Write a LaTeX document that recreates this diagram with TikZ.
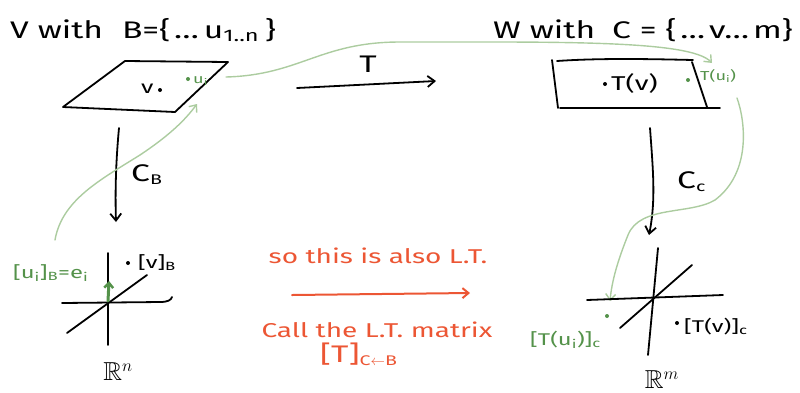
\documentclass[tikz,border=0pt]{standalone}
\usepackage{fontspec}
\setmainfont[FakeStretch=1.4]{Fira Sans}
\usepackage{amssymb}
\usetikzlibrary{arrows.meta}
\definecolor{lgreen}{RGB}{172,204,160}
\definecolor{dgreen}{RGB}{84,146,74}
\definecolor{orng}{RGB}{236,86,52}
\newcommand{\fs}[1]{\fontsize{#1}{#1}\selectfont}
\begin{document}
\begin{tikzpicture}[x=1pt,y=-1pt,line cap=round,line join=round,
  ink/.style={line width=1.8pt,black},
  inkarrow/.style={ink,-{Straight Barb[length=7pt,width=11pt,line width=1.8pt]}},
  gcurve/.style={line width=1.4pt,lgreen,-{Straight Barb[length=6pt,width=10pt]}},
  oarrow/.style={line width=2pt,orng,-{Straight Barb[length=6pt,width=10pt,line width=2pt]}},
  lbl/.style={inner sep=0pt,anchor=base west},
  dotb/.style={circle,fill=black,inner sep=0pt,minimum size=4pt},
  dotg/.style={circle,fill=dgreen,inner sep=0pt,minimum size=4pt}]
\useasboundingbox (0,0) rectangle (800,392);

% titles
\node[lbl,font=\fs{24}] (titleV) at (10,38) {V with\hspace{10pt} B=\{\,…\hspace{5pt}u\textsubscript{1..n}\hspace{6pt}\}};
\node[lbl,font=\fs{24}] (titleW) at (493,38) {W with\hspace{8pt} C = \{\,…\,v…\,m\}};

% left parallelogram
\draw[ink] (125,61) -- (228,62) -- (175,112) -- (63,107) -- cycle;
\node[lbl,font=\fs{18}] (v) at (141,93) {v};
\node[dotb] (vdot) at (160,90) {};
\node[dotg] (uidot) at (188,79) {};
\node[lbl,font=\fs{13},text=dgreen] (ui) at (193,83) {u\textsubscript{i}};
\coordinate (uiend) at (226,77);

% right quadrilateral
\draw[ink] (552,60) -- (558,108);
\draw[ink] (557,61) .. controls (600,58) and (650,59) .. (693,60);
\draw[ink] (692,62) -- (707,107);
\draw[ink] (560,108) -- (720,108);
\node[dotb] (Tvdot) at (605,84) {};
\node[lbl,font=\fs{20}] (Tv) at (611,90) {T(v)};
\node[dotg] (Tuidot) at (688,80) {};
\node[lbl,font=\fs{13},text=dgreen] (Tui) at (700,80) {T(u\textsubscript{i})};
\coordinate (Tuiarr) at (712,63);

% T arrow
\coordinate (Ta) at (297,88);
\coordinate (Tb) at (436,81);
\draw[inkarrow] (Ta) -- (Tb);
\node[font=\fs{24}] (Tlbl) at (368,64) {T};

% green curve top
\draw[gcurve] (uiend) .. controls (300,75) and (320,42) .. (400,42)
   .. controls (560,42) and (690,40) .. (Tuiarr);

% C_B arrow
\coordinate (CBa) at (119,128);
\coordinate (CBb) at (116,222);
\draw[inkarrow] (CBa) .. controls (116,160) and (115,190) .. (CBb);
\node[lbl,font=\fs{24}] (CB) at (131,181) {C\textsubscript{\fs{14}B}};

% C_c arrow
\coordinate (CCa) at (650,128);
\coordinate (CCb) at (649,235);
\draw[inkarrow] (CCa) .. controls (653,170) and (656,200) .. (CCb);
\node[lbl,font=\fs{24}] (CC) at (677,188) {C\textsubscript{\fs{14}c}};

% green curve left
\coordinate (gl) at (55,240);
\coordinate (glend) at (197,104);
\draw[gcurve] (gl) .. controls (62,200) and (100,180) .. (140,155)
   .. controls (170,135) and (185,120) .. (glend);

% green curve right
\coordinate (gr) at (737,98);
\coordinate (grend) at (610,301);
\draw[gcurve] (gr) .. controls (745,120) and (752,172) .. (715,200)
   .. controls (690,215) and (640,205) .. (628,235)
   .. controls (618,260) and (612,280) .. (grend);

% left axes
\coordinate (O1) at (108,301);
\draw[ink] (108,253) -- (108,345);
\draw[ink] (62,303) -- (160,302) .. controls (168,302) and (171,300) .. (172,297);
\draw[ink] (67,333) -- (147,275);
\draw[line width=3pt,dgreen,-{Straight Barb[length=5pt,width=9pt,line width=2.5pt]}] (O1) -- (109,281);
\node[dotb] (vBdot) at (128,263) {};
\node[lbl,font=\fs{17}] (vB) at (138,268) {[v]\textsubscript{B}};
\node[lbl,font=\fs{17},text=dgreen] (uiB) at (13,278) {[u\textsubscript{i}]\textsubscript{B}=e\textsubscript{i}};
\node[font=\fs{26}] (Rn) at (118,372) {$\mathbb{R}^n$};

% right axes
\draw[ink] (658,248) -- (648,355);
\draw[ink] (587,300) -- (723,295);
\draw[ink] (620,328) -- (692,265);
\node[dotg] (TuiCdot) at (607,316) {};
\node[lbl,font=\fs{17},text=dgreen] (TuiC) at (530,345) {[T(u\textsubscript{i})]\textsubscript{c}};
\node[dotb] (TvCdot) at (677,323) {};
\node[lbl,font=\fs{17}] (TvC) at (684,332) {[T(v)]\textsubscript{c}};
\node[font=\fs{26}] (Rm) at (662,380) {$\mathbb{R}^m$};

% orange
\node[font=\fs{20},text=orng] (so) at (378,256) {so this is also L.T.};
\coordinate (oa) at (292,295);
\coordinate (ob) at (470,293);
\draw[oarrow] (oa) -- (ob);
\node[font=\fs{20},text=orng] (call) at (377,330) {Call the L.T. matrix};
\node[lbl,font=\fs{24},text=orng] (TCB) at (320,362) {[T]\textsubscript{\fs{14}C$\leftarrow$B}};
\end{tikzpicture}
\end{document}
